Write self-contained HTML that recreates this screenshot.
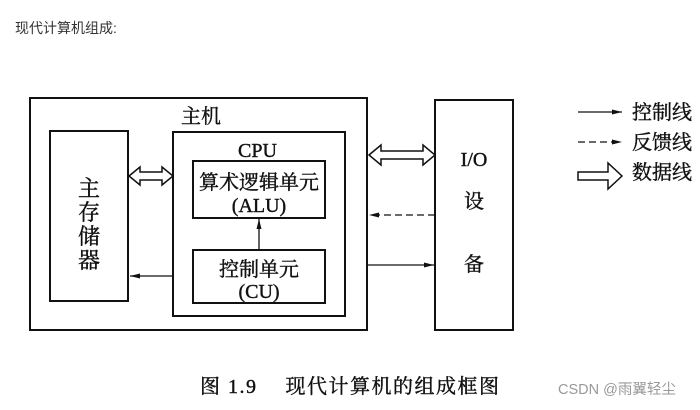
<!DOCTYPE html><html><head><meta charset="utf-8"><style>
body{margin:0;width:700px;height:410px;background:#fff;overflow:hidden}
</style></head><body>
<svg width="700" height="410" xmlns="http://www.w3.org/2000/svg" style="position:absolute;left:0;top:0">
<defs><marker id="a" markerWidth="10" markerHeight="6" refX="10" refY="3" orient="auto" markerUnits="userSpaceOnUse"><path d="M0,0.5 L10,3 L0,5.5z" fill="#111"/></marker></defs>
<text x="15" y="33" font-family="Liberation Sans,Noto Sans CJK SC,sans-serif" font-size="14" fill="#333">现代计算机组成:</text>
<g fill="none" stroke="#111" stroke-width="2">
<rect x="30" y="98" width="337" height="232"/>
<rect x="50" y="131" width="78" height="170"/>
<rect x="173" y="132" width="172" height="184"/>
<rect x="193" y="161" width="132" height="57"/>
<rect x="193" y="250" width="132" height="53"/>
<rect x="435" y="100" width="78" height="230"/>
</g>
<g fill="#fff" stroke="#111" stroke-width="1.5">
<path d="M129,176 L140,167 L140,172 L162,172 L162,167 L173,176 L162,185 L162,180 L140,180 L140,185z"/>
<path d="M369,155 L381,145 L381,151 L423,151 L423,145 L435,155 L423,165 L423,159 L381,159 L381,165z"/>
<path d="M578,172 L608,172 L608,163 L622,176 L608,189 L608,180 L578,180z"/>
</g>
<g stroke="#111" stroke-width="1.3">
<line x1="259" y1="250" x2="259" y2="219" marker-end="url(#a)"/>
<line x1="173" y1="276" x2="130" y2="276" marker-end="url(#a)"/>
<line x1="367" y1="265" x2="434" y2="265" marker-end="url(#a)"/>
<line x1="435" y1="215" x2="369" y2="215" stroke-dasharray="7,4" marker-end="url(#a)"/>
<line x1="578" y1="112" x2="622" y2="112" marker-end="url(#a)"/>
<line x1="578" y1="142" x2="622" y2="142" stroke-dasharray="7,4" marker-end="url(#a)"/>
</g>
<g font-family="Liberation Serif,Noto Serif CJK SC,serif" fill="#111" stroke="#111" stroke-width="0.4" font-size="20">
<text x="181" y="123">主机</text>
<text x="238" y="157">CPU</text>
<text x="259" y="189" text-anchor="middle">算术逻辑单元</text>
<text x="259" y="212" text-anchor="middle">(ALU)</text>
<text x="259" y="276" text-anchor="middle">控制单元</text>
<text x="259" y="298" text-anchor="middle">(CU)</text>
<text x="89" y="196" text-anchor="middle" font-size="22">主</text>
<text x="89" y="220" text-anchor="middle" font-size="22">存</text>
<text x="89" y="244" text-anchor="middle" font-size="22">储</text>
<text x="89" y="268" text-anchor="middle" font-size="22">器</text>
<text x="474" y="166" text-anchor="middle">I/O</text>
<text x="474" y="208" text-anchor="middle">设</text>
<text x="474" y="271" text-anchor="middle">备</text>
<text x="632" y="119">控制线</text>
<text x="632" y="149">反馈线</text>
<text x="632" y="179">数据线</text>
<text x="200" y="393" font-size="20" letter-spacing="1.5">图 1.9　 现代计算机的组成框图</text>
</g>
<text x="558" y="394" font-family="Liberation Sans,Noto Sans CJK SC,sans-serif" font-size="14.5" fill="#999">CSDN @雨翼轻尘</text>
</svg>
</body></html>
